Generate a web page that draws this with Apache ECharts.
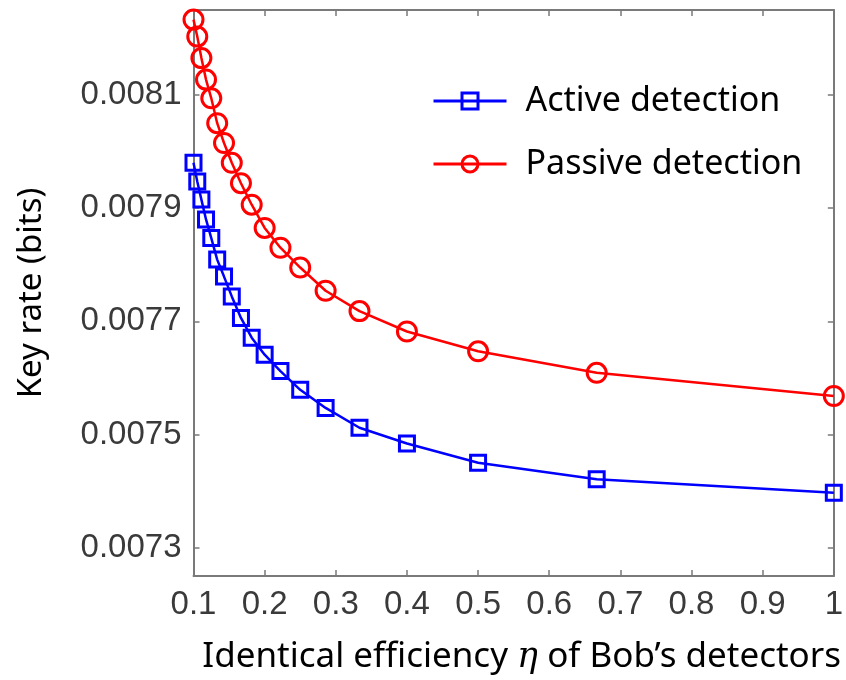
<!DOCTYPE html>
<html>
<head>
<meta charset="utf-8">
<script src="https://cdn.jsdelivr.net/npm/echarts@6/dist/echarts.min.js"></script>
<style>
  html, body { margin: 0; padding: 0; background: #fff; }
  #chart { width: 846px; height: 680px; }
</style>
</head>
<body>
<div id="chart"></div>
<script>
// Detector efficiency eta (x) and key rate in bits (y) for both schemes
const eta = [0.1, 0.1053, 0.1111, 0.1176, 0.125, 0.1333, 0.1429, 0.1538, 0.1667, 0.1818,
             0.2, 0.2222, 0.25, 0.2857, 0.3333, 0.4, 0.5, 0.6667, 1];
const activeRate = [0.007980, 0.007947, 0.007915, 0.007880, 0.007847, 0.007809, 0.007779,
                    0.007744, 0.007706, 0.007671, 0.007641, 0.007612, 0.007579, 0.007547,
                    0.007512, 0.007484, 0.007450, 0.007421, 0.007397];
const passiveRate = [0.008233, 0.008203, 0.008165, 0.008127, 0.008094, 0.008050, 0.008015,
                     0.007980, 0.007944, 0.007906, 0.007865, 0.007830, 0.007795, 0.007754,
                     0.007718, 0.007682, 0.007647, 0.007609, 0.007568];
const yTicks = [0.0073, 0.0075, 0.0077, 0.0079, 0.0081];
const seriesNames = ['Active detection', 'Passive detection'];

const axisGray = '#7a7a7a';
const labelGray = '#3a3a3a';
const tickFont = 'Liberation Sans';
const textFont = 'Noto Sans';

function pairs(xs, ys) { return xs.map((x, i) => [x, ys[i]]); }

const chart = echarts.init(document.getElementById('chart'), null, { renderer: 'canvas' });

const xBase = {
  type: 'value', min: 0.1, max: 1, interval: 0.1,
  axisLine: { show: true, lineStyle: { color: axisGray, width: 2 } },
  axisTick: { show: true, inside: true, length: 6, lineStyle: { color: axisGray, width: 1.5 } },
  splitLine: { show: false }
};
const yBase = {
  type: 'value', min: 0.00725, max: 0.00825,
  axisLine: { show: true, lineStyle: { color: axisGray, width: 2 } },
  axisTick: { show: true, inside: true, length: 6, customValues: yTicks,
              lineStyle: { color: axisGray, width: 1.5 } },
  splitLine: { show: false }
};

chart.setOption({
  animation: false,
  backgroundColor: '#fff',
  grid: { left: 193.5, right: 8, top: 10, bottom: 101, containLabel: false },
  legend: {
    orient: 'vertical',
    left: 427, top: 75,
    itemWidth: 73, itemHeight: 20, itemGap: 21,
    data: seriesNames,
    lineStyle: { width: 3 },
    itemStyle: { borderWidth: 3 },
    textStyle: { fontFamily: textFont, fontSize: 34, color: '#000', lineHeight: 42, padding: [0, 0, 0, 14] }
  },
  xAxis: [
    Object.assign({}, xBase, {
      position: 'bottom',
      axisLabel: {
        show: true, margin: 12, color: labelGray, fontFamily: tickFont, fontSize: 33,
        formatter: v => String(parseFloat(v.toFixed(1)))
      },
      name: 'Identical efficiency {i|η} of Bob\u2019s detectors',
      nameLocation: 'middle', nameGap: 64,
      nameTextStyle: {
        fontFamily: textFont, fontSize: 35, color: '#000', padding: [0, 0, 0, 16],
        rich: { i: { fontFamily: 'DejaVu Serif', fontStyle: 'italic', fontSize: 35, color: '#000' } }
      }
    }),
    Object.assign({}, xBase, { position: 'top', axisLabel: { show: false } })
  ],
  yAxis: [
    Object.assign({}, yBase, {
      position: 'left',
      axisLabel: {
        show: true, margin: 12, color: labelGray, fontFamily: tickFont, fontSize: 33,
        customValues: yTicks, formatter: v => v.toFixed(4)
      },
      name: 'Key rate (bits)',
      nameLocation: 'middle', nameGap: 145, nameRotate: 90,
      nameTextStyle: { fontFamily: textFont, fontSize: 33, color: '#000' }
    }),
    Object.assign({}, yBase, { position: 'right', axisLabel: { show: false } })
  ],
  series: [
    {
      name: seriesNames[0], type: 'line', xAxisIndex: 0, yAxisIndex: 0,
      data: pairs(eta, activeRate),
      symbol: 'rect', symbolSize: 15,
      lineStyle: { color: '#0000ff', width: 2.5 },
      itemStyle: { color: 'rgba(255,255,255,0)', borderColor: '#0000ff', borderWidth: 3 },
      z: 3
    },
    {
      name: seriesNames[1], type: 'line', xAxisIndex: 0, yAxisIndex: 0,
      data: pairs(eta, passiveRate),
      symbol: 'circle', symbolSize: 19,
      lineStyle: { color: '#ff0000', width: 2.5 },
      itemStyle: { color: 'rgba(255,255,255,0)', borderColor: '#ff0000', borderWidth: 3 },
      z: 3
    }
  ]
});
</script>
</body>
</html>
